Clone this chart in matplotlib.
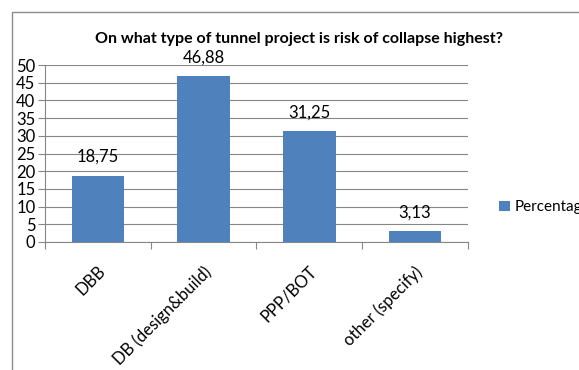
import matplotlib.pyplot as plt
from matplotlib.patches import Rectangle
from matplotlib.ticker import MultipleLocator

categories = ["DBB", "DB (design&build)", "PPP/BOT", "other (specify)"]
percentage = [18.75, 46.88, 31.25, 3.13]

plt.rcParams['font.family'] = ['Lato', 'DejaVu Sans']

fig = plt.figure(figsize=(5.79, 3.70), dpi=100)
ax = fig.add_axes([0.078, 0.346, 0.730, 0.478])

# chart frame (runs off the right and bottom edges)
fig.add_artist(Rectangle((12 / 579, -0.05), 1.0, 1 - 12 / 370 + 0.05,
                         transform=fig.transFigure, fill=False,
                         edgecolor="#8c8c8c", linewidth=1.0))

x = list(range(len(categories)))
bars = ax.bar(x, percentage, width=0.5, color="#4F81BD", zorder=3,
              label="Percentage")

for xi, v in zip(x, percentage):
    ax.text(xi, v + 3.0, f"{v:.2f}".replace(".", ","), ha="center",
            va="bottom", fontsize=12)

ax.set_xlim(-0.5, 3.5)
ax.set_ylim(0, 50)
ax.yaxis.set_major_locator(MultipleLocator(5))
ax.grid(axis="y", color="#868686", linewidth=0.8, zorder=0)
ax.tick_params(axis="y", labelsize=12, length=5, color="#868686", pad=2)

ax.set_xticks([-0.5, 0.5, 1.5, 2.5, 3.5])
ax.set_xticklabels([])
ax.tick_params(axis="x", length=5, color="#868686")
for xi, name in zip(x, categories):
    ax.text(xi - 0.01, -6, name, rotation=45, ha="right", va="top",
            rotation_mode="anchor", fontsize=12)

for side in ["top", "right"]:
    ax.spines[side].set_visible(False)
ax.spines["left"].set_color("#868686")
ax.spines["bottom"].set_color("#868686")

ax.set_title("On what type of tunnel project is risk of collapse highest?",
             fontsize=11.5, fontweight="bold", x=0.6, pad=16)

fig.legend(loc="center left", bbox_to_anchor=(0.838, 0.44), frameon=False,
           fontsize=11, handlelength=0.7, handleheight=0.7,
           handletextpad=0.3)

fig.savefig("out.png", dpi=100)
